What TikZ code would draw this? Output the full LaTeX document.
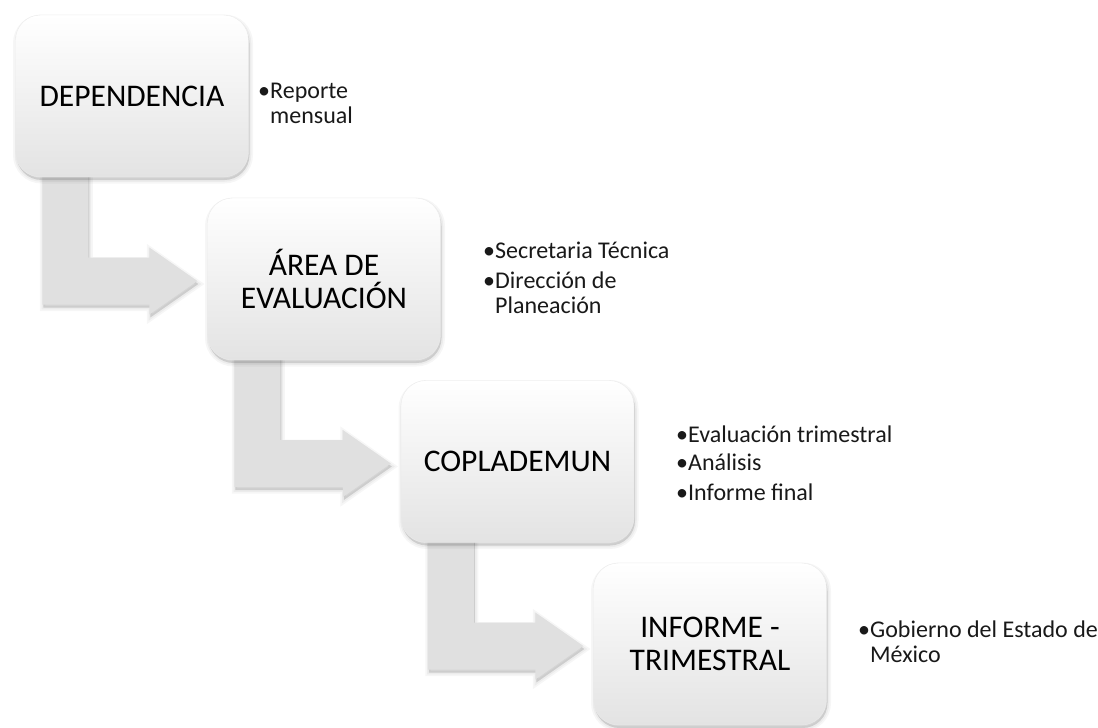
\documentclass[tikz,border=0pt]{standalone}
\usepackage{fontspec}
\setmainfont{Carlito}
\usetikzlibrary{calc}
\tikzset{
  softshadow/.style={
    preaction={fill=black, fill opacity=0.035, draw=black, draw opacity=0.035, line width=7pt, transform canvas={xshift=1pt,yshift=-3pt}},
    preaction={fill=black, fill opacity=0.04, draw=black, draw opacity=0.04, line width=3.5pt, transform canvas={xshift=1pt,yshift=-3pt}},
    preaction={fill=black, fill opacity=0.06, draw=none, transform canvas={xshift=1pt,yshift=-3pt}}},
  box/.style={softshadow, rectangle, rounded corners=25pt, minimum width=233pt, minimum height=162pt,
    inner sep=0pt, top color=white, middle color=white, bottom color=black!11, draw=black!8, line width=0.4pt,
    align=center, font=\fontsize{31.5}{33}\selectfont, text=black},
  arrowstyle/.style={softshadow, fill=black!12, draw=none},
  side/.style={anchor=base west, inner sep=0pt, font=\fontsize{24}{25}\selectfont, text=black!90},
}
\newcommand\bentarr[2]{%
  \path[arrowstyle] ($(#1.south west)+(27,-12)$) |- ($(#2.west)+(-58,25.5)$) -- ++(0,10)
    -- ($(#2.west)+(-10,2)$) -- ($(#2.west)+(-58,-31.5)$) -- ++(0,10)
    -| ($(#1.south west)+(73,-12)$) -- cycle;}
\newcommand\bul{\makebox[12pt][l]{•}}
\begin{document}
\begin{tikzpicture}[x=1pt,y=-1pt]
\useasboundingbox (0,0) rectangle (1098,728);
\fill[white] (0,0) rectangle (1098,728);
% coordinates for boxes (placed first, drawn later)
\path (132,96) coordinate (c1) (324,279) coordinate (c2) (517.5,461.5) coordinate (c3) (710,644) coordinate (c4);
\path (c1) node[minimum width=233pt, minimum height=162pt, inner sep=0pt] (b1) {};
\path (c2) node[minimum width=233pt, minimum height=162pt, inner sep=0pt] (b2) {};
\path (c3) node[minimum width=233pt, minimum height=162pt, inner sep=0pt] (b3) {};
\path (c4) node[minimum width=233pt, minimum height=162pt, inner sep=0pt] (b4) {};
\bentarr{b1}{b2}
\bentarr{b2}{b3}
\bentarr{b3}{b4}
\node[box] (B1) at (c1) {DEPENDENCIA};
\node[box] (B2) at (c2) {ÁREA DE\\EVALUACIÓN};
\node[box] (B3) at (c3) {COPLADEMUN};
\node[box] (B4) at (c4) {INFORME -\\TRIMESTRAL};
% side texts
\node[side] (s1a) at (258,98) {\bul Reporte};
\node[side] (s1b) at (270,123) {mensual};
\node[side] (s2a) at (483,258) {\bul Secretaria Técnica};
\node[side] (s2b) at (483,288) {\bul Dirección de};
\node[side] (s2c) at (495,313) {Planeación};
\node[side] (s3a) at (676,442) {\bul Evaluación trimestral};
\node[side] (s3b) at (676,470) {\bul Análisis};
\node[side] (s3c) at (676,500) {\bul Informe final};
\node[side] (s4a) at (858,637) {\bul Gobierno del Estado de};
\node[side] (s4b) at (870,662) {México};
\end{tikzpicture}
\end{document}
